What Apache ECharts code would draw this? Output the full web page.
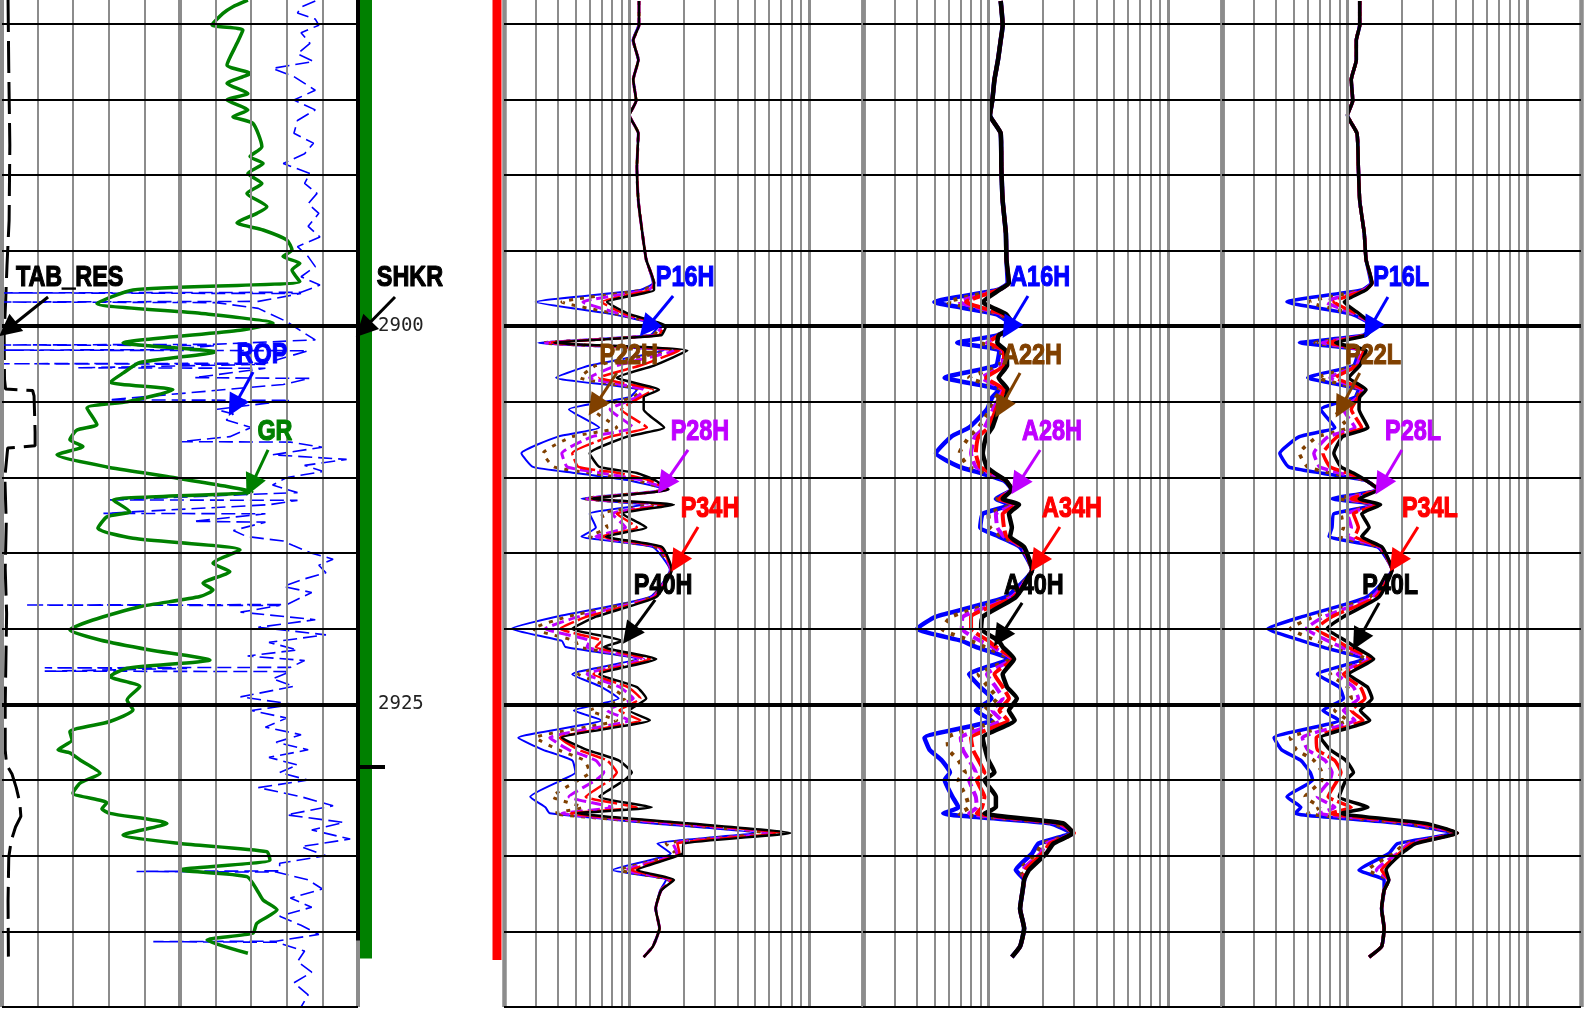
<!DOCTYPE html>
<html>
<head>
<meta charset="utf-8">
<title>Resistivity log</title>
<script src="https://cdn.jsdelivr.net/npm/echarts@6/dist/echarts.min.js"></script>
<style>
  html, body { margin: 0; padding: 0; background: #fff; }
  #chart { width: 1584px; height: 1009px; }
</style>
</head>
<body>
<div id="chart"></div>
<script>
// depth grid
var depthTicks = [2880, 2885, 2890, 2895, 2900, 2905, 2910, 2915, 2920, 2925, 2930, 2935, 2940, 2945];
var depthMajor = [2900, 2925];
var depthLabels = [2900, 2925];
var linTicks = [0, 15, 30, 45, 60, 75, 90, 105, 120, 135, 150];
var resTicks = [0.2, 0.3, 0.4, 0.5, 0.6, 0.7, 0.8, 0.9, 1, 2, 3, 4, 5, 6, 7, 8, 9, 10, 20];

// track 1 curves: [depth, value]
var gr = [[2878.44,103.6],[2878.88,97.3],[2879.32,93.1],[2880.09,88.5],[2880.42,101.5],[2881.3,99],[2882.74,94.8],[2883.29,104.5],[2883.95,94.8],[2884.61,103.6],[2885.05,94.8],[2885.71,103.6],[2886.15,97.3],[2886.59,105.7],[2888.13,109.5],[2888.79,104.5],[2889.24,110],[2889.9,103.6],[2890.56,109.5],[2891.22,103.2],[2892.1,111.6],[2892.54,107.4],[2893.16,99],[2893.64,110],[2894.3,120],[2894.96,122.2],[2895.4,118.4],[2895.84,125.5],[2896.28,122.2],[2897.05,125.5],[2897.6,55.2],[2898.5,40],[2899.15,83.4],[2899.8,114.2],[2900.26,100.3],[2901.1,51],[2901.7,89.7],[2902.4,58.1],[2903.1,51],[2903.7,45.5],[2904.2,72],[2905.0,52.7],[2905.4,35.8],[2906.5,40],[2906.86,31.6],[2907.5,28.6],[2907.95,34.1],[2908.5,23.2],[2909.3,44.2],[2909.94,69.5],[2910.95,105.3],[2911.49,46.8],[2912.26,53.9],[2912.6,44.2],[2913.36,40.4],[2914.02,55.2],[2914.79,100.3],[2915.67,88.9],[2916.22,96],[2916.99,84.7],[2917.43,88.9],[2917.87,83.4],[2918.54,58.1],[2919.42,38.3],[2920.08,28.6],[2920.74,41.3],[2921.4,62.4],[2922.06,87.6],[2922.61,52.7],[2923.16,45.5],[2923.82,58.1],[2924.7,52.7],[2925.36,55.2],[2926.13,45.5],[2926.8,28.6],[2927.35,29.5],[2928.0,23.6],[2928.2,28.6],[2928.67,32.9],[2929.55,41.3],[2930.2,32.9],[2930.87,29.9],[2931.5,44.2],[2931.9,42.1],[2932.2,45.5],[2932.87,69.5],[2933.63,51],[2934.19,75],[2934.73,111.6],[2935.28,112.9],[2935.94,75],[2936.38,103.2],[2937.26,107.4],[2937.92,110],[2938.58,115.9],[2939.46,107.4],[2940.12,105.7],[2940.57,86.4],[2941.45,103.6]];

var rop = [[2878.5,88],[2878.9,84],[2879.3,83],[2879.7,88],[2880.1,89],[2880.6,84],[2881.3,86.5],[2882.0,83],[2882.5,87.5],[2882.96,76],[2883.5,82],[2884.4,88],[2885.05,82],[2885.7,88],[2886.4,83],[2887.25,82],[2887.9,87.5],[2888.6,85],[2889.24,79],[2889.9,86.5],[2890.56,85],[2891.22,88.5],[2891.9,86],[2892.54,89],[2893.4,86],[2894.1,89.3],[2894.74,83],[2895.4,86],[2896.06,88],[2896.73,84],[2897.28,89.3],
  [2897.76,84],[2897.8,0],[2897.84,84],[2898.36,72],[2898.4,0],[2898.44,60],[2898.82,72],[2899.7,80],[2900.47,85],[2900.9,88],[2901.2,59],[2901.24,0],[2901.28,60],[2901.55,46],[2901.58,0],[2901.62,86],[2902.45,74],[2902.48,0],[2902.52,74],[2902.75,21],[2902.78,74],[2903.4,54],[2903.45,86.5],[2903.85,79],[2904.87,30],[2904.9,81],[2905.5,60],[2905.8,65],[2906.2,63],[2906.7,70],[2907.3,64],[2907.63,50],[2907.66,81],[2908.0,90],[2908.5,76],[2908.8,96.8],[2909.2,85],[2909.6,90.3],[2910.0,80],[2910.5,76],[2911.0,83],[2911.48,30],[2911.51,83],[2911.8,75],[2912.37,28.5],[2912.4,74],[2912.9,53.7],[2912.95,74],[2913.5,65],[2913.9,68.7],[2914.2,79],[2914.5,81.8],[2915.0,87],[2915.4,93],[2915.8,89],[2916.3,91],[2916.7,85],[2917.2,79],[2917.6,87],[2918.4,80],[2918.43,6.5],[2918.46,78],[2918.9,67],[2919.4,88],[2919.9,72],[2920.4,91],[2920.9,75],[2921.4,83],[2921.8,69],[2922.1,85],[2922.55,81],[2922.58,12],[2922.62,52],[2922.8,12],[2922.83,81],[2923.3,76],[2923.8,82],[2924.5,67],[2925.0,82],[2925.4,70],[2925.9,80],[2926.5,74],[2927.0,84],[2927.5,77],[2928.0,86],[2928.5,75],[2929.0,83],[2929.5,78],[2930.0,86],[2930.5,72],[2931.1,84],[2931.7,93],[2932.3,80],[2932.8,96],[2933.3,87],[2933.9,97.8],[2934.4,84],[2935.0,91],[2935.5,78],[2936.0,78],[2936.04,37.8],[2936.08,77],[2936.6,86],[2937.2,90],[2937.8,81],[2938.4,87],[2939.0,78],[2939.6,84],[2940.2,89],[2940.65,77],[2940.68,42.5],[2940.72,77],[2941.3,85],[2942.0,83],[2942.7,87],[2943.4,82],[2944.2,86],[2945.0,84]];

var tabRes = [[2878.44,1.7],[2883,1.9],[2888,2.2],[2893,2.0],[2896,1.4],[2898.5,1.0],[2900.5,0.6],[2903.5,0.7],[2904.15,1.0],[2904.25,8.6],[2904.6,9.0],[2907.0,9.3],[2907.9,9.3],[2908.05,1.6],[2910,0.8],[2913,1.2],[2916,0.9],[2919,1.3],[2922,1.1],[2925,0.9],[2928,0.9],[2929.0,1.3],[2929.6,2.8],[2930.5,4.0],[2931.5,5.0],[2932.4,5.3],[2933.1,3.8],[2934.0,2.6],[2935.1,1.9],[2938,1.7],[2941.67,1.8]];

var shkrDepth = [2875, 2941.8];
var redBarDepth = [2875, 2941.9];
var shkrTickDepth = 2929.13;

// resistivity curves, shared depths
var resDepth = [2878.5,2880.1,2881.1,2882.4,2883.7,2885.1,2886.05,2887.25,2889.5,2891.7,
  2893.85,2895.6,2897.15,2897.6,2898.4,2899.2,2900.0,2900.6,2901.1,2901.6,
  2902.6,2903.4,2904.2,2904.7,2905.5,2906.7,2907.3,2908.4,2909.3,2909.7,
  2910.2,2910.8,2911.4,2911.8,2912.4,2913.3,2913.9,2914.6,2916.1,2917.9,
  2919.2,2920.0,2920.8,2921.2,2922.0,2923.0,2923.85,2924.6,2925.4,2926.05,
  2927.2,2928.0,2928.7,2929.5,2930.0,2931.1,2931.8,2932.2,2932.85,2933.5,
  2934.2,2934.85,2935.95,2936.6,2937.3,2938.5,2939.8,2941.0,2941.7];

var p16h = [1.13,1.12,1.04,1.12,1.05,1.09,1.0,1.12,1.1,1.12,
  1.18,1.24,1.35,1.15,0.3,0.8,1.45,1.3,0.31,1.55,
  0.6,0.39,1.1,1.0,0.46,0.68,0.4,0.25,0.29,0.5,
  1.0,1.6,0.54,1.2,0.6,0.65,0.54,1.35,1.68,1.3,
  0.39,0.22,0.42,0.44,1.1,0.48,0.7,0.87,0.49,0.7,
  0.24,0.33,0.48,0.5,0.42,0.28,0.34,0.36,1.3,5.0,
  1.43,1.7,0.8,1.6,1.48,1.4,1.47,1.35,1.2];
var p22h = [1.13,1.13,1.05,1.12,1.05,1.09,1.0,1.12,1.1,1.12,
  1.18,1.24,1.37,1.2,0.42,0.85,1.5,1.35,0.33,1.7,
  0.65,0.53,1.15,1.05,0.62,0.85,0.48,0.33,0.38,0.6,
  1.1,1.6,0.56,1.35,0.7,0.75,0.6,1.4,1.7,1.33,
  0.45,0.29,0.5,0.52,1.15,0.52,0.78,0.95,0.6,0.85,
  0.3,0.4,0.56,0.6,0.52,0.37,0.55,0.38,1.5,5.8,
  1.6,1.8,0.88,1.65,1.5,1.4,1.47,1.35,1.2];
var p28h = [1.13,1.13,1.05,1.12,1.05,1.09,1.0,1.12,1.1,1.12,
  1.18,1.24,1.37,1.28,0.55,0.9,1.5,1.4,0.34,1.8,
  0.85,0.6,1.2,1.1,0.78,1.05,0.62,0.42,0.45,0.7,
  1.2,1.63,0.58,1.5,0.8,0.95,0.65,1.45,1.7,1.35,
  0.52,0.34,0.6,0.58,1.2,0.58,0.88,1.05,0.75,1.0,
  0.36,0.46,0.65,0.72,0.65,0.46,0.8,0.42,1.7,6.5,
  1.75,1.85,0.95,1.7,1.5,1.4,1.47,1.35,1.2];
var p34h = [1.13,1.13,1.05,1.12,1.05,1.09,1.0,1.12,1.1,1.12,
  1.18,1.24,1.37,1.33,0.7,0.95,1.55,1.45,0.36,1.9,
  1.15,0.68,1.35,1.15,0.9,1.25,0.78,0.48,0.52,0.87,
  1.3,1.63,0.6,1.6,0.85,1.1,0.7,1.48,1.71,1.38,
  0.58,0.41,0.7,0.65,1.3,0.63,0.98,1.15,0.88,1.15,
  0.41,0.52,0.75,0.85,0.78,0.57,1.1,0.47,1.9,7.0,
  1.85,1.9,1.02,1.72,1.5,1.4,1.47,1.35,1.2];
var p40h = [1.13,1.13,1.05,1.12,1.05,1.09,1.0,1.12,1.1,1.12,
  1.18,1.24,1.37,1.37,0.75,1.0,1.6,1.5,0.38,2.1,
  1.37,0.85,1.46,1.2,1.2,1.56,0.97,0.6,0.68,1.1,
  1.4,1.65,0.62,1.77,0.91,1.24,0.74,1.52,1.72,1.41,
  0.65,0.48,0.91,0.72,1.41,0.68,1.1,1.24,1.0,1.3,
  0.42,0.58,0.87,1.03,0.94,0.68,1.33,0.51,2.1,7.9,
  2.0,1.98,1.1,1.77,1.5,1.4,1.47,1.35,1.2];

var a16h = [1.17,1.2,1.17,1.13,1.08,1.05,1.02,1.17,1.18,1.2,
  1.25,1.26,1.28,1.12,0.5,1.1,1.37,1.12,0.67,1.15,
  1.1,0.57,1.15,1.05,0.98,0.78,0.62,0.51,0.69,0.9,
  1.22,1.35,1.1,1.32,0.93,0.9,1.14,1.5,1.75,1.25,
  0.51,0.4,0.71,0.85,1.3,0.78,0.9,1.04,0.85,1.04,
  0.44,0.47,0.55,0.61,0.57,0.63,0.68,0.56,2.2,2.9,
  1.9,1.75,1.42,1.58,1.55,1.5,1.58,1.5,1.35];
var a22h = [1.17,1.2,1.17,1.13,1.08,1.05,1.02,1.17,1.18,1.2,
  1.25,1.26,1.3,1.13,0.59,1.15,1.39,1.13,0.91,1.18,
  1.15,0.78,1.18,1.1,1.02,0.88,0.78,0.69,0.78,0.98,
  1.25,1.35,1.12,1.36,1.0,1.02,1.18,1.52,1.75,1.3,
  0.62,0.55,0.8,0.95,1.32,0.88,1.0,1.12,0.95,1.1,
  0.59,0.6,0.68,0.74,0.68,0.75,0.78,0.68,2.3,2.95,
  2.0,1.85,1.5,1.58,1.55,1.5,1.58,1.5,1.35];
var a28h = [1.17,1.2,1.17,1.13,1.08,1.05,1.02,1.17,1.18,1.2,
  1.25,1.26,1.3,1.14,0.69,1.18,1.39,1.14,0.98,1.2,
  1.2,0.92,1.2,1.15,1.06,0.95,0.84,0.8,0.85,1.02,
  1.25,1.35,1.14,1.4,1.1,1.12,1.22,1.54,1.75,1.35,
  0.72,0.71,0.9,1.05,1.35,0.98,1.1,1.2,1.05,1.18,
  0.7,0.72,0.78,0.85,0.78,0.85,0.86,0.78,2.4,3.0,
  2.1,1.95,1.56,1.58,1.55,1.5,1.58,1.5,1.35];
var a34h = [1.17,1.2,1.17,1.13,1.08,1.05,1.02,1.17,1.18,1.2,
  1.25,1.26,1.3,1.14,0.75,1.2,1.39,1.14,1.0,1.22,
  1.22,0.97,1.22,1.18,1.1,1.0,0.88,0.85,0.9,1.05,
  1.25,1.35,1.15,1.44,1.2,1.22,1.26,1.56,1.75,1.38,
  0.8,0.8,1.0,1.1,1.37,1.08,1.2,1.3,1.15,1.28,
  0.8,0.82,0.88,0.95,0.86,0.95,0.92,0.86,2.5,3.0,
  2.2,2.0,1.6,1.58,1.55,1.5,1.58,1.5,1.35];
var a40h = [1.17,1.2,1.17,1.13,1.08,1.05,1.02,1.17,1.18,1.2,
  1.25,1.26,1.3,1.15,0.93,1.25,1.39,1.14,1.12,1.25,
  1.27,1.14,1.28,1.25,1.14,1.05,0.97,0.93,0.98,1.08,
  1.25,1.35,1.2,1.48,1.3,1.35,1.32,1.58,1.75,1.42,
  0.93,0.91,1.14,1.2,1.39,1.2,1.27,1.44,1.3,1.4,
  0.93,0.96,1.0,1.08,0.95,1.1,1.1,0.95,2.6,2.95,
  2.3,2.1,1.68,1.58,1.55,1.5,1.58,1.5,1.35];

var p16l = [1.17,1.17,1.12,1.12,1.05,1.07,1.0,1.13,1.15,1.17,
  1.24,1.27,1.35,1.2,0.46,1.05,1.38,1.22,0.54,1.15,
  1.08,0.6,1.15,1.1,0.71,0.85,0.54,0.42,0.47,0.71,
  1.27,1.47,0.82,1.45,0.84,0.82,0.79,1.48,1.77,1.28,
  0.56,0.36,0.56,0.72,1.22,0.68,0.9,0.95,0.73,0.9,
  0.39,0.43,0.55,0.62,0.64,0.46,0.55,0.51,1.9,3.9,
  1.9,1.7,1.16,1.6,1.6,1.55,1.6,1.55,1.32];
var p22l = [1.17,1.17,1.12,1.12,1.05,1.07,1.0,1.13,1.15,1.17,
  1.24,1.27,1.37,1.22,0.61,1.08,1.4,1.24,0.66,1.18,
  1.1,0.68,1.18,1.12,0.85,1.0,0.68,0.54,0.6,0.8,
  1.27,1.49,0.9,1.47,0.92,0.95,0.9,1.5,1.77,1.33,
  0.65,0.48,0.68,0.82,1.27,0.8,1.0,1.05,0.85,1.0,
  0.48,0.52,0.65,0.72,0.72,0.58,0.7,0.6,2.1,4.0,
  2.1,1.8,1.3,1.7,1.6,1.55,1.6,1.55,1.32];
var p28l = [1.17,1.17,1.12,1.12,1.05,1.07,1.0,1.13,1.15,1.17,
  1.24,1.27,1.37,1.24,0.76,1.1,1.4,1.25,0.72,1.2,
  1.12,0.8,1.2,1.14,0.95,1.1,0.78,0.65,0.7,0.9,
  1.27,1.49,0.98,1.49,1.0,1.05,1.0,1.52,1.77,1.38,
  0.74,0.59,0.78,0.92,1.32,0.88,1.08,1.15,0.95,1.1,
  0.56,0.6,0.75,0.82,0.8,0.68,0.85,0.7,2.3,4.0,
  2.2,1.9,1.45,1.7,1.6,1.55,1.6,1.55,1.32];
var p34l = [1.17,1.17,1.12,1.12,1.05,1.07,1.0,1.13,1.15,1.17,
  1.24,1.27,1.37,1.26,0.84,1.14,1.4,1.26,0.78,1.23,
  1.14,0.86,1.23,1.15,1.05,1.2,0.88,0.73,0.8,1.0,
  1.27,1.49,1.05,1.51,1.08,1.15,1.1,1.54,1.77,1.44,
  0.82,0.67,0.88,1.0,1.36,0.95,1.18,1.25,1.05,1.22,
  0.67,0.68,0.85,0.92,0.88,0.78,1.05,0.8,2.5,4.1,
  2.3,1.95,1.55,1.7,1.6,1.55,1.6,1.55,1.32];
var p40l = [1.17,1.17,1.12,1.12,1.05,1.07,1.0,1.13,1.15,1.17,
  1.24,1.27,1.37,1.27,0.96,1.17,1.4,1.27,0.86,1.27,
  1.17,1.02,1.27,1.17,1.16,1.3,0.94,0.84,0.92,1.08,
  1.27,1.49,1.16,1.53,1.2,1.32,1.2,1.56,1.77,1.5,
  0.95,0.77,0.98,1.1,1.4,1.02,1.29,1.37,1.18,1.33,
  0.71,0.8,0.98,1.08,0.98,0.9,1.3,0.92,2.7,4.1,
  2.4,2.0,1.64,1.7,1.6,1.55,1.6,1.55,1.32];

var BLUE = '#0000ff', BROWN = '#804000', MAG = '#bf00ff', RED = '#ff0000', BLACK = '#000000', GREEN = '#008000';
var GRAY = '#8c8c8c';

var chart = echarts.init(document.getElementById('chart'));

function hLines() {
  return depthTicks.map(function (d) {
    return { yAxis: d, lineStyle: { color: BLACK, type: 'solid', width: depthMajor.indexOf(d) >= 0 ? 4 : 2 } };
  });
}

function gridSeries(xi, yi, verts) {
  return {
    type: 'line', xAxisIndex: xi, yAxisIndex: yi, data: [], z: 1, silent: true,
    markLine: {
      silent: true, animation: false, symbol: ['none', 'none'], label: { show: false },
      data: verts.concat(hLines())
    }
  };
}

function linVerts() {
  return linTicks.map(function (v) {
    var w = (v === 0 || v === 75 || v === 150) ? 4 : 2;
    return { xAxis: v, lineStyle: { color: GRAY, type: 'solid', width: w } };
  });
}

function logVerts() {
  return resTicks.map(function (v) {
    var w = (v === 0.2 || v === 20) ? 4.5 : (v === 1 || v === 10 ? 3 : 2);
    return { xAxis: v, lineStyle: { color: GRAY, type: 'solid', width: w } };
  });
}

function curve(name, vals, xi, yi, color, width, type) {
  return {
    name: name, type: 'line', xAxisIndex: xi, yAxisIndex: yi,
    data: vals.map(function (v, i) { return [v, resDepth[i]]; }),
    symbol: 'none', smooth: 0.15, silent: true, z: 3,
    lineStyle: { color: color, width: width, type: type }
  };
}

// arrows only; the text is placed afterwards through the same axes
function notes(xi, yi, list) {
  return {
    type: 'line', xAxisIndex: xi, yAxisIndex: yi, data: [], z: 6, silent: true,
    markLine: {
      silent: true, animation: false, symbol: ['none', 'triangle'], symbolSize: 22, label: { show: false },
      data: list.map(function (n) {
        return [{ coord: n.from, lineStyle: { color: n.color, width: 3, type: 'solid' }, itemStyle: { color: n.color } },
                { coord: n.to }];
      })
    }
  };
}

var grids = [
  { left: 2, top: -52, width: 356, height: 1059 },
  { left: 358, top: -52, width: 146, height: 1059 },
  { left: 504, top: -52, width: 359, height: 1059 },
  { left: 863, top: -52, width: 359, height: 1059 },
  { left: 1222, top: -52, width: 359, height: 1059 }
].map(function (g) { g.containLabel = false; g.outerBoundsMode = 'none'; return g; });

var xAxes = [
  { gridIndex: 0, type: 'value', min: 0, max: 150, show: false },
  { gridIndex: 0, type: 'value', min: 0, max: 100, show: false },
  { gridIndex: 0, type: 'value', min: 0, max: 100, show: false },
  { gridIndex: 1, type: 'value', min: 0, max: 146, show: false },
  { gridIndex: 2, type: 'log', logBase: 10, min: 0.2, max: 20, show: false },
  { gridIndex: 3, type: 'log', logBase: 10, min: 0.2, max: 20, show: false },
  { gridIndex: 4, type: 'log', logBase: 10, min: 0.2, max: 20, show: false }
];

var yAxes = [0, 1, 2, 3, 4].map(function (i) {
  var ax = { gridIndex: i, type: 'value', min: 2875, max: 2945, inverse: true, show: false };
  if (i === 1) {
    ax.show = true;
    ax.interval = 5;
    ax.axisLine = { show: false };
    ax.axisTick = { show: false };
    ax.splitLine = { show: false };
    ax.axisLabel = {
      inside: true, margin: 20, color: '#222', fontFamily: '"DejaVu Sans Mono", monospace', fontSize: 19,
      formatter: function (v) { return depthLabels.indexOf(v) >= 0 ? String(v) : ''; }
    };
  }
  return ax;
});

var noteGroups = [
  { xi: 0, yi: 0, list: [
    { text: 'TAB_RES', color: BLACK, at: [28.5, 2896.81], from: [19.4, 2898.07], to: [2.4, 2900.2] },
    { text: 'ROP', color: BLUE, at: [109.5, 2901.9], from: [105.8, 2903.02], to: [97.8, 2905.3] },
    { text: 'GR', color: GREEN, at: [115, 2906.99], from: [112.1, 2908.18], to: [105, 2910.55] } ] },
  { xi: 3, yi: 1, list: [
    { text: 'SHKR', color: BLACK, at: [52, 2896.81], from: [37, 2898.07], to: [5.5, 2900.2] } ] },
  { xi: 4, yi: 2, list: [
    { text: 'P16H', color: BLUE, at: [2.04, 2896.81], from: [1.75, 2898.0], to: [1.25, 2900.1] },
    { text: 'P22H', color: BROWN, at: [0.99, 2901.97], from: [0.85, 2903.09], to: [0.64, 2905.3] },
    { text: 'P28H', color: MAG, at: [2.47, 2906.99], from: [2.12, 2908.18], to: [1.56, 2910.45] },
    { text: 'P34H', color: RED, at: [2.81, 2912.05], from: [2.41, 2913.27], to: [1.84, 2915.6] },
    { text: 'P40H', color: BLACK, at: [1.54, 2917.17], from: [1.39, 2918.09], to: [1.0, 2920.4] } ] },
  { xi: 5, yi: 3, list: [
    { text: 'A16H', color: BLUE, at: [1.94, 2896.81], from: [1.66, 2898.0], to: [1.29, 2900.15] },
    { text: 'A22H', color: BROWN, at: [1.75, 2901.97], from: [1.5, 2903.09], to: [1.17, 2905.4] },
    { text: 'A28H', color: MAG, at: [2.26, 2906.99], from: [1.94, 2908.18], to: [1.45, 2910.5] },
    { text: 'A34H', color: RED, at: [2.92, 2912.05], from: [2.5, 2913.27], to: [1.86, 2915.6] },
    { text: 'A40H', color: BLACK, at: [1.79, 2917.17], from: [1.54, 2918.29], to: [1.16, 2920.55] } ] },
  { xi: 6, yi: 4, list: [
    { text: 'P16L', color: BLUE, at: [1.99, 2896.81], from: [1.68, 2898.07], to: [1.33, 2900.15] },
    { text: 'P22L', color: BROWN, at: [1.39, 2901.97], from: [1.17, 2903.09], to: [0.92, 2905.4] },
    { text: 'P28L', color: MAG, at: [2.32, 2906.99], from: [2.01, 2908.18], to: [1.54, 2910.5] },
    { text: 'P34L', color: RED, at: [2.88, 2912.05], from: [2.47, 2913.27], to: [1.86, 2915.6] },
    { text: 'P40L', color: BLACK, at: [1.73, 2917.17], from: [1.5, 2918.29], to: [1.15, 2920.75] } ] }
];

var series = [];
// grid lines
var t1Verts = linVerts();
t1Verts.push([{ coord: [150, 2875], lineStyle: { color: BLACK, width: 4, type: 'solid' } }, { coord: [150, 2940.6] }]);
series.push(gridSeries(0, 0, t1Verts));
series.push({
  type: 'line', xAxisIndex: 3, yAxisIndex: 1, data: [], z: 4, silent: true,
  markLine: { silent: true, animation: false, symbol: ['none', 'none'], label: { show: false },
    data: [[{ coord: [0, shkrTickDepth], lineStyle: { color: BLACK, width: 4, type: 'solid' } }, { coord: [27, shkrTickDepth] }]] }
});
series.push(gridSeries(4, 2, logVerts()));
series.push(gridSeries(5, 3, logVerts()));
series.push(gridSeries(6, 4, logVerts()));

// track 1 curves
series.push({ name: 'TAB_RES', type: 'line', xAxisIndex: 2, yAxisIndex: 0, symbol: 'none', silent: true, z: 3,
  data: tabRes.map(function (p) { return [p[1], p[0]]; }),
  lineStyle: { color: BLACK, width: 3, type: [32, 9] } });
series.push({ name: 'ROP', type: 'line', xAxisIndex: 1, yAxisIndex: 0, symbol: 'none', silent: true, z: 3,
  data: rop.map(function (p) { return [p[1], p[0]]; }),
  lineStyle: { color: BLUE, width: 1.6, type: [14, 6] } });
series.push({ name: 'GR', type: 'line', xAxisIndex: 0, yAxisIndex: 0, symbol: 'none', silent: true, z: 4, smooth: 0.2,
  data: gr.map(function (p) { return [p[1], p[0]]; }),
  lineStyle: { color: GREEN, width: 3.5 } });

// depth track bars
series.push({ name: 'SHKR', type: 'line', xAxisIndex: 3, yAxisIndex: 1, symbol: 'none', silent: true, z: 3,
  data: shkrDepth.map(function (d) { return [8, d]; }),
  lineStyle: { color: GREEN, width: 12 } });
series.push({ name: 'flag', type: 'line', xAxisIndex: 3, yAxisIndex: 1, symbol: 'none', silent: true, z: 3,
  data: redBarDepth.map(function (d) { return [139, d]; }),
  lineStyle: { color: RED, width: 9 } });

// resistivity tracks
var dot = [4, 7], dash = [12, 5], longDash = [26, 4];
series.push(curve('P16H', p16h, 4, 2, BLUE, 2, 'solid'));
series.push(curve('P22H', p22h, 4, 2, BROWN, 3, dot));
series.push(curve('P28H', p28h, 4, 2, MAG, 3, dash));
series.push(curve('P34H', p34h, 4, 2, RED, 2.5, longDash));
series.push(curve('P40H', p40h, 4, 2, BLACK, 2.5, 'solid'));

series.push(curve('A16H', a16h, 5, 3, BLUE, 4.5, 'solid'));
series.push(curve('A22H', a22h, 5, 3, BROWN, 4, dot));
series.push(curve('A28H', a28h, 5, 3, MAG, 4, dash));
series.push(curve('A34H', a34h, 5, 3, RED, 4, longDash));
series.push(curve('A40H', a40h, 5, 3, BLACK, 4.5, 'solid'));

series.push(curve('P16L', p16l, 6, 4, BLUE, 3.5, 'solid'));
series.push(curve('P22L', p22l, 6, 4, BROWN, 3.5, dot));
series.push(curve('P28L', p28l, 6, 4, MAG, 3.5, dash));
series.push(curve('P34L', p34l, 6, 4, RED, 3.5, longDash));
series.push(curve('P40L', p40l, 6, 4, BLACK, 3.5, 'solid'));

// annotation arrows
var noteSeriesIndex = [];
noteGroups.forEach(function (g) {
  noteSeriesIndex.push(series.length);
  series.push(notes(g.xi, g.yi, g.list));
});

chart.setOption({
  backgroundColor: '#fff',
  animation: false,
  grid: grids,
  xAxis: xAxes,
  yAxis: yAxes,
  series: series
});

// curve names: heavy condensed text, positioned via the axes
var texts = [];
noteGroups.forEach(function (g, gi) {
  g.list.forEach(function (n) {
    var pt = chart.convertToPixel({ seriesIndex: noteSeriesIndex[gi] }, n.at);
    texts.push({
      type: 'text', x: pt[0], y: pt[1], scaleX: 0.78, z: 100, silent: true,
      style: {
        text: n.text, fill: n.color, stroke: n.color, lineWidth: 1.2,
        font: 'bold 30px "Liberation Sans", Arial, sans-serif',
        align: 'center', verticalAlign: 'middle', textAlign: 'center', textVerticalAlign: 'middle'
      }
    });
  });
});
chart.setOption({ graphic: texts });
</script>
</body>
</html>
